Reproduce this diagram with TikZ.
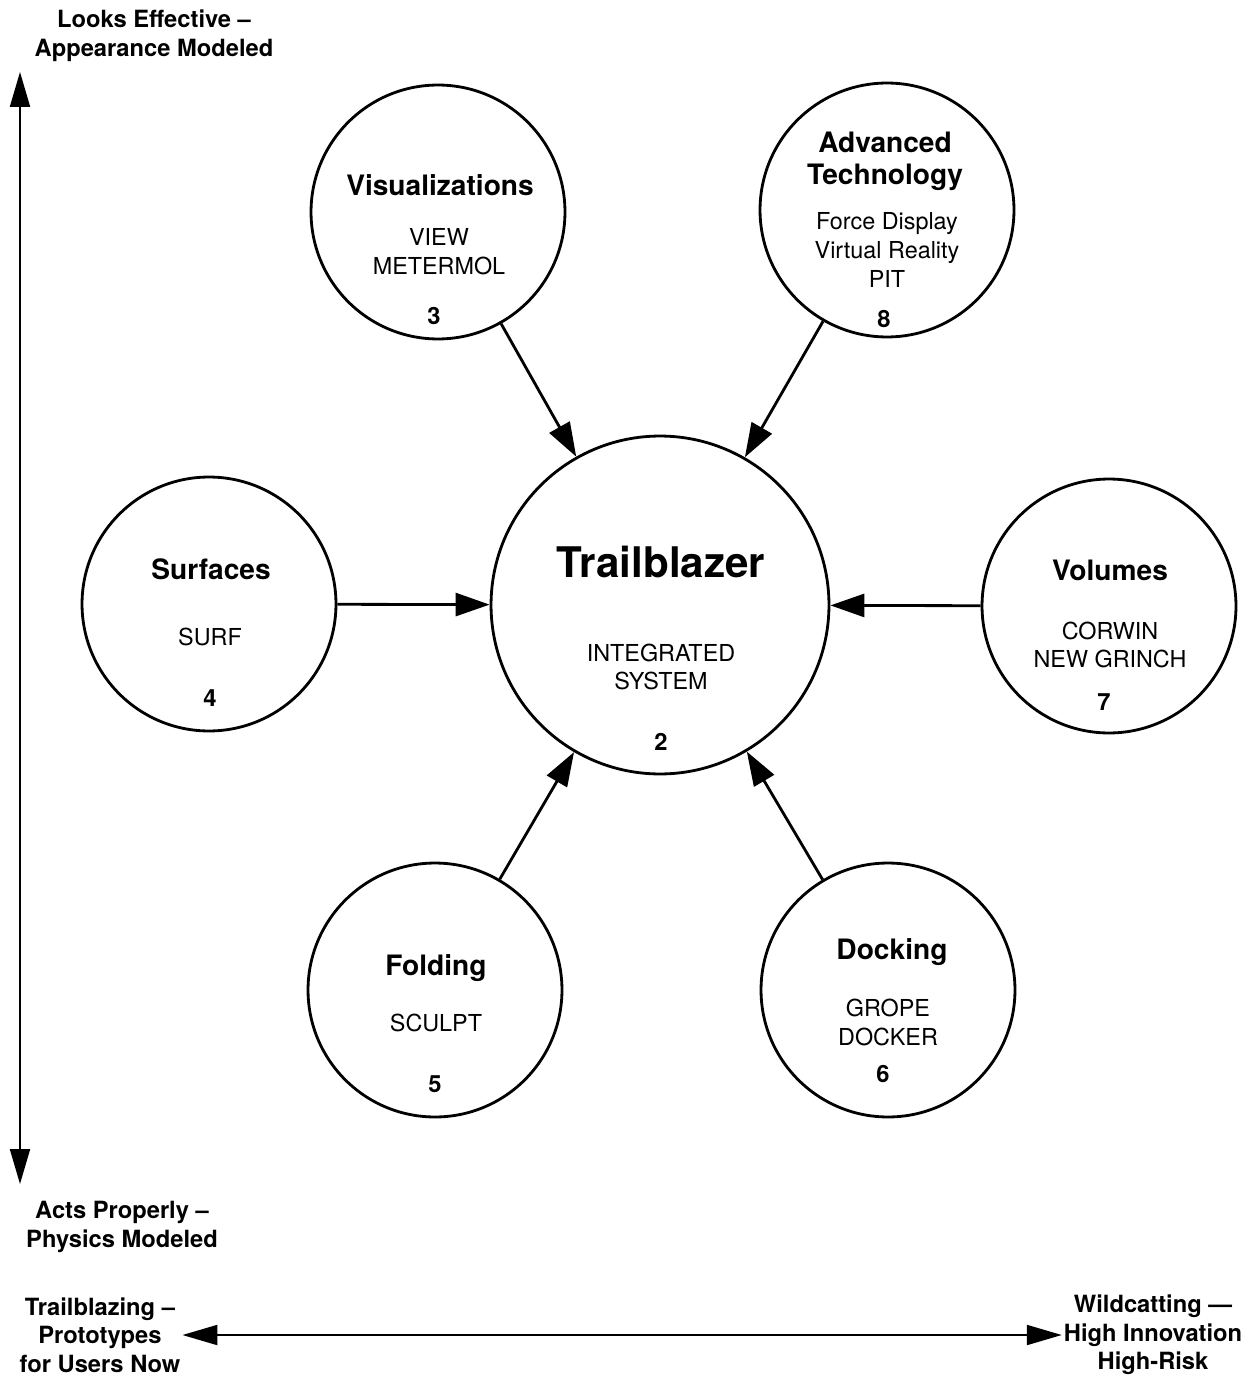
\documentclass[tikz,border=0pt]{standalone}
\usepackage{fontspec}
\setmainfont{TeX Gyre Heros}
\usetikzlibrary{arrows.meta}

\tikzset{
  satellite/.style={circle, draw, line width=1.6pt, minimum size=5.08cm, inner sep=0pt},
  hub/.style={circle, draw, line width=1.6pt, minimum size=6.76cm, inner sep=0pt},
  link/.style={line width=1.6pt, -{Triangle[length=0.68cm,width=0.46cm]}},
  axis/.style={line width=1.2pt, {Triangle[length=0.7cm,width=0.4cm]}-{Triangle[length=0.7cm,width=0.4cm]}},
  ttl/.style={font=\fontsize{16}{18.2}\bfseries, align=center, inner sep=0pt},
  sub/.style={font=\fontsize{13.3}{16.5}\selectfont, align=center, inner sep=0pt},
  num/.style={font=\fontsize{13.5}{16}\bfseries, inner sep=0pt},
  axislbl/.style={font=\fontsize{13.5}{16.3}\bfseries, align=center, inner sep=0pt}
}

\begin{document}
\begin{tikzpicture}[x=0.02cm, y=-0.02cm]

\useasboundingbox (0,0) rectangle (1249,1378);

% circles
\node[hub] (trail) at (660,605) {};
\node[satellite] (vis) at (438,212) {};
\node[satellite] (adv) at (887,210) {};
\node[satellite] (surf) at (209,604) {};
\node[satellite] (vol) at (1109,606) {};
\node[satellite] (fold) at (435,990) {};
\node[satellite] (dock) at (888,990) {};

% texts
\node[font=\fontsize{24}{26}\bfseries, inner sep=0pt] (trail-t) at (661,562) {Trailblazer};
\node[sub, font=\fontsize{13.3}{15.4}\selectfont] (trail-s) at (661,667) {INTEGRATED\\SYSTEM};
\node[num] (trail-n) at (661,742) {2};

\node[ttl] (vis-t) at (440,185) {Visualizations};
\node[sub] (vis-s) at (439,252) {VIEW\\METERMOL};
\node[num] (vis-n) at (434,316) {3};

\node[ttl] (adv-t) at (885,161) {Advanced\\Technology};
\node[sub] (adv-s) at (887,250) {Force Display\\Virtual Reality\\PIT};
\node[num] (adv-n) at (884,319) {8};

\node[ttl] (surf-t) at (211,569) {Surfaces};
\node[sub] (surf-s) at (210,637) {SURF};
\node[num] (surf-n) at (210,698) {4};

\node[ttl] (vol-t) at (1110,570) {Volumes};
\node[sub, font=\fontsize{13.3}{15.4}\selectfont] (vol-s) at (1110,645) {CORWIN\\NEW GRINCH};
\node[num] (vol-n) at (1104,702) {7};

\node[ttl] (fold-t) at (436,968) {Folding};
\node[sub] (fold-s) at (436,1023) {SCULPT};
\node[num] (fold-n) at (435,1084) {5};

\node[ttl] (dock-t) at (892,952) {Docking};
\node[sub] (dock-s) at (888,1022) {GROPE\\DOCKER};
\node[num] (dock-n) at (883,1074) {6};

% arrows to the hub
\foreach \s in {vis, adv, surf, vol, fold, dock}
  \draw[link] (\s) -- (trail);

% axes
\node[axislbl] (looks) at (154,36) {Looks Effective --\\Appearance Modeled};
\node[axislbl] (acts) at (122,1227) {Acts Properly --\\Physics Modeled};
\node[axislbl] (blaze) at (100,1335) {Trailblazing --\\Prototypes\\for Users Now};
\node[axislbl] (wild) at (1153,1335) {Wildcatting ---\\High Innovation\\High-Risk};

\coordinate (ytop) at (20,72);
\coordinate (ybot) at (20,1184);
\draw[axis] (ytop) -- (ybot);
\draw[axis] ([xshift=1pt]blaze.east) -- ([xshift=-1pt]wild.west);

\end{tikzpicture}
\end{document}
